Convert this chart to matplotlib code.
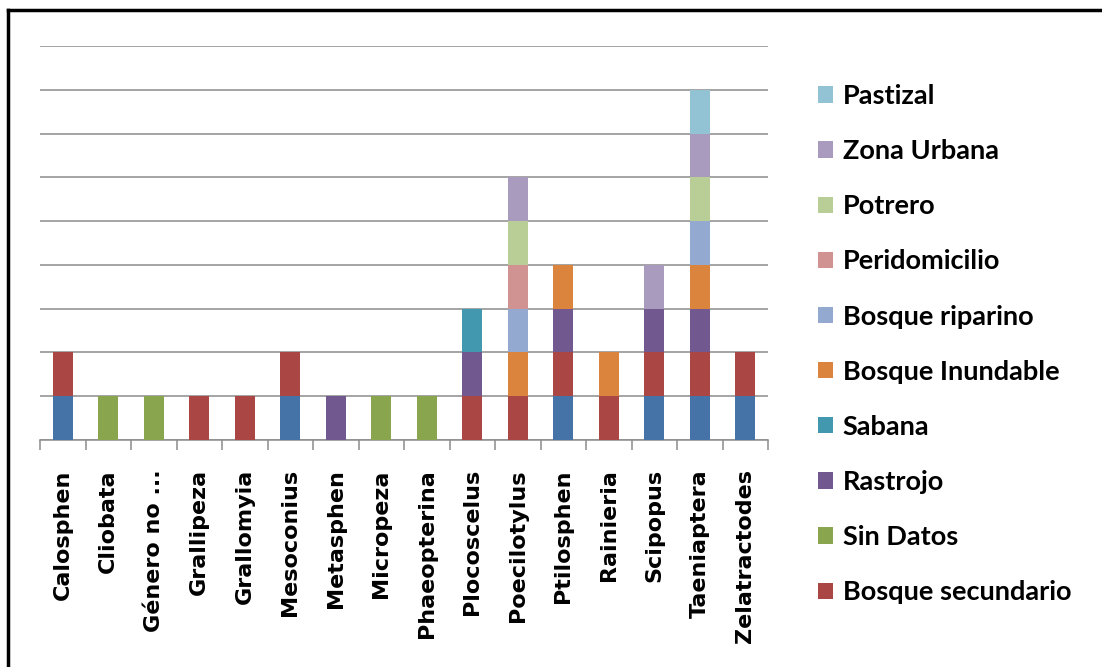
import matplotlib.pyplot as plt
import numpy as np
from matplotlib.patches import Patch
from matplotlib.lines import Line2D

genera = ['Calosphen', 'Cliobata', 'Género no ...', 'Grallipeza', 'Grallomyia',
          'Mesoconius', 'Metasphen', 'Micropeza', 'Phaeopterina', 'Plocoscelus',
          'Poecilotylus', 'Ptilosphen', 'Rainieria', 'Scipopus', 'Taeniaptera',
          'Zelatractodes']

# stack order, bottom to top
bosque_primario = [1, 0, 0, 0, 0, 1, 0, 0, 0, 0, 0, 1, 0, 1, 1, 1]
bosque_secundario = [1, 0, 0, 1, 1, 1, 0, 0, 0, 1, 1, 1, 1, 1, 1, 1]
sin_datos = [0, 1, 1, 0, 0, 0, 0, 1, 1, 0, 0, 0, 0, 0, 0, 0]
rastrojo = [0, 0, 0, 0, 0, 0, 1, 0, 0, 1, 0, 1, 0, 1, 1, 0]
sabana = [0, 0, 0, 0, 0, 0, 0, 0, 0, 1, 0, 0, 0, 0, 0, 0]
bosque_inundable = [0, 0, 0, 0, 0, 0, 0, 0, 0, 0, 1, 1, 1, 0, 1, 0]
bosque_riparino = [0, 0, 0, 0, 0, 0, 0, 0, 0, 0, 1, 0, 0, 0, 1, 0]
peridomicilio = [0, 0, 0, 0, 0, 0, 0, 0, 0, 0, 1, 0, 0, 0, 0, 0]
potrero = [0, 0, 0, 0, 0, 0, 0, 0, 0, 0, 1, 0, 0, 0, 1, 0]
zona_urbana = [0, 0, 0, 0, 0, 0, 0, 0, 0, 0, 1, 0, 0, 1, 1, 0]
pastizal = [0, 0, 0, 0, 0, 0, 0, 0, 0, 0, 0, 0, 0, 0, 1, 0]

series = [
    ('Bosque primario', bosque_primario, '#4572A7'),
    ('Bosque secundario', bosque_secundario, '#AA4643'),
    ('Sin Datos', sin_datos, '#89A54E'),
    ('Rastrojo', rastrojo, '#71588F'),
    ('Sabana', sabana, '#4198AF'),
    ('Bosque Inundable', bosque_inundable, '#DB843D'),
    ('Bosque riparino', bosque_riparino, '#93A9CF'),
    ('Peridomicilio', peridomicilio, '#D19392'),
    ('Potrero', potrero, '#B9CD96'),
    ('Zona Urbana', zona_urbana, '#A99BBD'),
    ('Pastizal', pastizal, '#92C3D4'),
]

fig = plt.figure(figsize=(11.02, 6.67), dpi=100)
ax = fig.add_axes([40 / 1102, 227 / 667, 728 / 1102, 394 / 667])

x = np.arange(len(genera))
bottom = np.zeros(len(genera))
handles = []
for name, vals, color in series:
    vals = np.array(vals, dtype=float)
    ax.bar(x, vals, width=0.43, bottom=bottom, color=color, zorder=3)
    bottom += vals
    # the first series was cut off the legend in the original
    if name != 'Bosque primario':
        handles.append(Patch(facecolor=color, label=name))

ax.set_xlim(-0.5, len(genera) - 0.5)
ax.set_ylim(0, 9)
ax.set_yticks(range(10))
ax.yaxis.grid(True, color='#8c8c8c', linewidth=1.1, zorder=0)
ax.tick_params(axis='y', length=0, labelleft=False)
for side in ['left', 'right', 'top']:
    ax.spines[side].set_visible(False)
ax.spines['bottom'].set_color('#8c8c8c')
ax.spines['bottom'].set_linewidth(1.1)

ax.set_xticks(x)
ax.set_xticklabels(genera, rotation=90, fontsize=16, fontweight='bold',
                   family='DejaVu Sans')
ax.tick_params(axis='x', which='major', length=0, pad=21)
ax.set_xticks(np.arange(-0.5, len(genera)), minor=True)
ax.tick_params(axis='x', which='minor', length=7, width=1.1, color='#8c8c8c')

leg = fig.legend(handles=handles[::-1], loc='upper left',
                 bbox_to_anchor=(818 / 1102, 1 - 84 / 667), frameon=False,
                 prop={'family': 'Lato', 'weight': 'bold', 'size': 19.5},
                 handlelength=0.55, handleheight=0.55, handletextpad=0.37,
                 labelspacing=1.15, borderpad=0, borderaxespad=0)

# border (top and left only, as cropped)
fig.add_artist(Line2D([8 / 1102, 8 / 1102], [0, 1 - 10 / 667],
                      transform=fig.transFigure, color='black', linewidth=2.5))
fig.add_artist(Line2D([8 / 1102, 1], [1 - 10 / 667, 1 - 10 / 667],
                      transform=fig.transFigure, color='black', linewidth=2.5))

fig.savefig('out.png', dpi=100)
